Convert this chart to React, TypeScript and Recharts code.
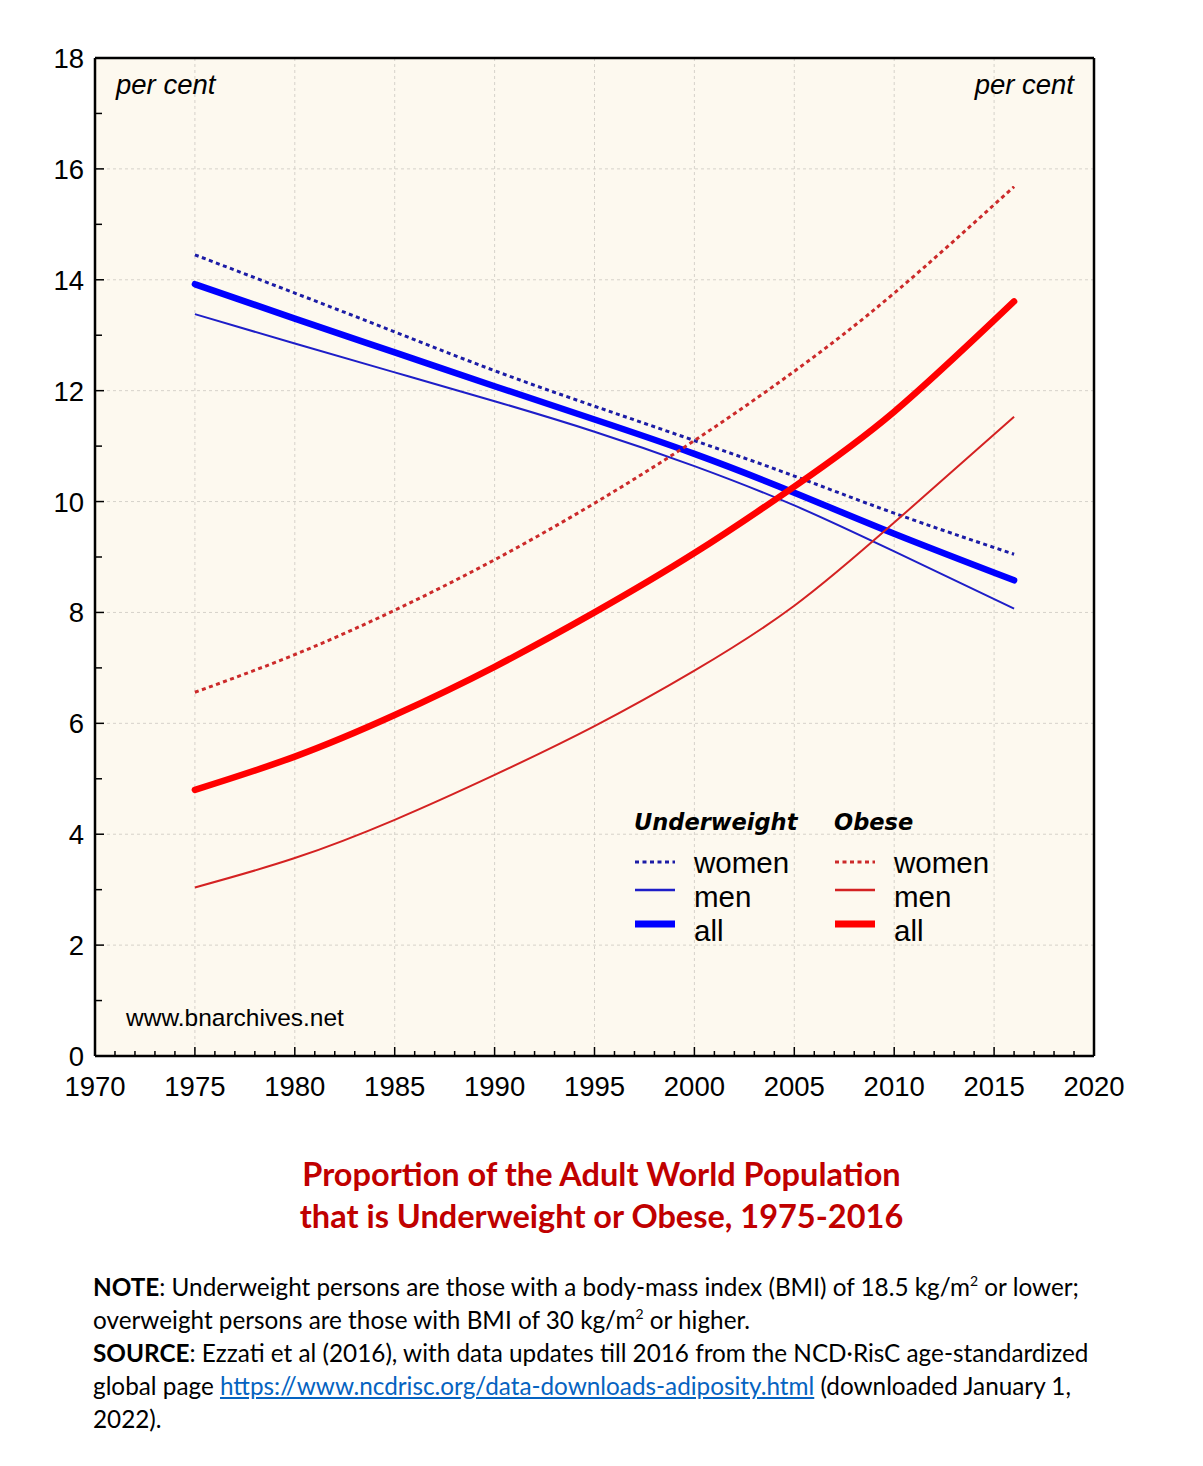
import React from "react";
import {
  LineChart,
  Line,
  XAxis,
  YAxis,
  CartesianGrid,
  ReferenceLine,
} from "recharts";

/* ── data (per cent of adult world population) ────────────── */
const years = [1975, 1980, 1985, 1990, 1995, 2000, 2005, 2010, 2016];
const uwWomen = [14.45, 13.76, 13.06, 12.36, 11.72, 11.1, 10.46, 9.79, 9.05];
const uwMen = [13.38, 12.85, 12.33, 11.81, 11.26, 10.64, 9.93, 9.1, 8.07];
const uwAll = [13.92, 13.3, 12.69, 12.08, 11.48, 10.86, 10.16, 9.42, 8.58];
const obWomen = [6.56, 7.24, 8.04, 8.95, 9.97, 11.1, 12.35, 13.76, 15.68];
const obMen = [3.04, 3.57, 4.26, 5.07, 5.95, 6.95, 8.12, 9.62, 11.53];
const obAll = [4.8, 5.4, 6.15, 7.02, 8.0, 9.07, 10.27, 11.62, 13.61];

const xTicks = Array.from({ length: 51 }, (_, i) => 1970 + i);
const yTicks = Array.from({ length: 19 }, (_, i) => i);
const xGrid = [1975, 1980, 1985, 1990, 1995, 2000, 2005, 2010, 2015];
const yGrid = [2, 4, 6, 8, 10, 12, 14, 16];

const rows = years.map((year, i) => ({
  year,
  uwWomen: uwWomen[i],
  uwMen: uwMen[i],
  uwAll: uwAll[i],
  obWomen: obWomen[i],
  obMen: obMen[i],
  obAll: obAll[i],
}));

const BLUE_DOT = "#1c1ca6";
const BLUE_THIN = "#1e1ec8";
const BLUE = "#0000ff";
const RED_DOT = "#cc2a2a";
const RED_THIN = "#d42222";
const RED = "#ff0000";

const sans = "'Liberation Sans', Arial, sans-serif";

function XTick({ x, y, payload }: any) {
  const v = payload.value;
  const major = v % 5 === 0;
  return (
    <g>
      <line x1={x} x2={x} y1={y} y2={y - (major ? 9 : 5)} stroke="#000" strokeWidth={1.5} />
      {major && (
        <text x={x} y={y + 40} textAnchor="middle" fontSize={27.5} fontFamily={sans} fill="#000">
          {v}
        </text>
      )}
    </g>
  );
}

function YTickLeft({ x, y, payload }: any) {
  const v = payload.value;
  const major = v % 2 === 0;
  return (
    <g>
      <line x1={x} x2={x + (major ? 9 : 7)} y1={y} y2={y} stroke="#000" strokeWidth={1.5} />
      {major && (
        <text x={x - 11} y={y + 10} textAnchor="end" fontSize={27.5} fontFamily={sans} fill="#000">
          {v}
        </text>
      )}
    </g>
  );
}

function YTickRight({ x, y, payload }: any) {
  const v = payload.value;
  const major = v % 2 === 0;
  return (
    <g>
      <line x1={x} x2={x - (major ? 9 : 7)} y1={y} y2={y} stroke="#000" strokeWidth={1.5} />
      {major && (
        <text x={x + 23} y={y + 10} textAnchor="start" fontSize={27.5} fontFamily={sans} fill="#000">
          {v}
        </text>
      )}
    </g>
  );
}

function Sample({ color, width, dash }: { color: string; width: number; dash?: string }) {
  return (
    <svg width={42} height={10} style={{ display: "block" }}>
      <line x1={1} x2={41} y1={5} y2={5} stroke={color} strokeWidth={width} strokeDasharray={dash} />
    </svg>
  );
}

function LegendColumn({ left, title, c }: { left: number; title: string; c: string[] }) {
  const label: React.CSSProperties = {
    position: "absolute",
    left: left + 60,
    fontSize: 29.5,
    fontFamily: sans,
    lineHeight: "30px",
  };
  const sample: React.CSSProperties = { position: "absolute", left };
  return (
    <>
      <div
        style={{
          position: "absolute",
          left,
          top: 808,
          fontFamily: "'DejaVu Sans', sans-serif",
          fontWeight: "bold",
          fontStyle: "italic",
          fontSize: 22.5,
          lineHeight: "28px",
        }}
      >
        {title}
      </div>
      <div style={{ ...sample, top: 857 }}>
        <Sample color={c[0]} width={3} dash="4 3.5" />
      </div>
      <div style={{ ...sample, top: 885 }}>
        <Sample color={c[1]} width={2.5} />
      </div>
      <div style={{ ...sample, top: 919 }}>
        <Sample color={c[2]} width={7} />
      </div>
      <div style={{ ...label, top: 848 }}>women</div>
      <div style={{ ...label, top: 882 }}>men</div>
      <div style={{ ...label, top: 916 }}>all</div>
    </>
  );
}

const supStyle: React.CSSProperties = {
  fontSize: 14,
  lineHeight: 0,
  verticalAlign: "baseline",
  position: "relative",
  top: -10,
};

export default function App() {
  return (
    <div
      style={{
        position: "absolute",
        left: 0,
        top: 0,
        width: 1203,
        height: 1466,
        background: "#fff",
        fontFamily: sans,
        color: "#000",
      }}
    >
      <LineChart width={1203} height={1110} data={rows} margin={{ top: 58, right: 0, bottom: 0, left: 0 }}>
        <CartesianGrid
          fill="#fdf9ef"
          stroke="#d6d2ca"
          strokeDasharray="3 3"
          verticalValues={xGrid}
          horizontalValues={yGrid}
        />
        <XAxis
          type="number"
          dataKey="year"
          domain={[1970, 2020]}
          ticks={xTicks}
          interval={0}
          height={54}
          tickLine={false}
          tickSize={0}
          tickMargin={0}
          tick={<XTick />}
          axisLine={{ stroke: "#000", strokeWidth: 2.5 }}
        />
        <YAxis
          domain={[0, 18]}
          ticks={yTicks}
          interval={0}
          width={95}
          tickLine={false}
          tickSize={0}
          tickMargin={0}
          tick={<YTickLeft />}
          axisLine={{ stroke: "#000", strokeWidth: 2.5 }}
        />
        <YAxis
          yAxisId="r"
          orientation="right"
          domain={[0, 18]}
          ticks={yTicks}
          interval={0}
          width={109}
          tickLine={false}
          tickSize={0}
          tickMargin={0}
          tick={<YTickRight />}
          axisLine={{ stroke: "#000", strokeWidth: 2.5 }}
        />
        <ReferenceLine y={18} stroke="#000" strokeWidth={2.5} />
        <Line type="natural" dataKey="uwWomen" stroke={BLUE_DOT} strokeWidth={3} strokeDasharray="4 3.5" dot={false} isAnimationActive={false} />
        <Line type="natural" dataKey="uwMen" stroke={BLUE_THIN} strokeWidth={2} dot={false} isAnimationActive={false} />
        <Line type="natural" dataKey="uwAll" stroke={BLUE} strokeWidth={6.5} strokeLinecap="round" dot={false} isAnimationActive={false} />
        <Line type="natural" dataKey="obWomen" stroke={RED_DOT} strokeWidth={3} strokeDasharray="4 3.5" dot={false} isAnimationActive={false} />
        <Line type="natural" dataKey="obMen" stroke={RED_THIN} strokeWidth={2} dot={false} isAnimationActive={false} />
        <Line type="natural" dataKey="obAll" stroke={RED} strokeWidth={6.5} strokeLinecap="round" dot={false} isAnimationActive={false} />
      </LineChart>

      {/* in-plot labels */}
      <div style={{ position: "absolute", left: 116, top: 69, fontSize: 27.5, fontStyle: "italic", lineHeight: "32px" }}>
        per cent
      </div>
      <div style={{ position: "absolute", right: 1203 - 1074, top: 69, fontSize: 27.5, fontStyle: "italic", lineHeight: "32px" }}>
        per cent
      </div>
      <div style={{ position: "absolute", left: 126, top: 1003, fontSize: 24.5, lineHeight: "30px" }}>
        www.bnarchives.net
      </div>

      <LegendColumn left={634} title="Underweight" c={[BLUE_DOT, BLUE_THIN, BLUE]} />
      <LegendColumn left={834} title="Obese" c={[RED_DOT, RED_THIN, RED]} />

      {/* title */}
      <div
        style={{
          position: "absolute",
          left: 0,
          width: 1203,
          top: 1153,
          textAlign: "center",
          fontFamily: "Lato, sans-serif",
          fontWeight: "bold",
          fontSize: 32.5,
          lineHeight: "42px",
          color: "#c00000",
        }}
      >
        Proportion of the Adult World Population
        <br />
        that is Underweight or Obese, 1975-2016
      </div>

      {/* notes */}
      <div
        style={{
          position: "absolute",
          left: 93,
          top: 1270,
          fontFamily: "Lato, sans-serif",
          fontSize: 24.3,
          lineHeight: "33px",
          whiteSpace: "nowrap",
        }}
      >
        <b>NOTE</b>: Underweight persons are those with a body-mass index (BMI) of 18.5 kg/m<span style={supStyle}>2</span> or lower;
        <br />
        overweight persons are those with BMI of 30 kg/m<span style={supStyle}>2</span> or higher.
        <br />
        <b>SOURCE</b>: Ezzati et al (2016), with data updates till 2016 from the NCD·RisC age-standardized
        <br />
        global page{" "}
        <span style={{ color: "#0563c1", textDecoration: "underline" }}>
          https://www.ncdrisc.org/data-downloads-adiposity.html
        </span>{" "}
        (downloaded January 1,
        <br />
        2022).
      </div>
    </div>
  );
}
